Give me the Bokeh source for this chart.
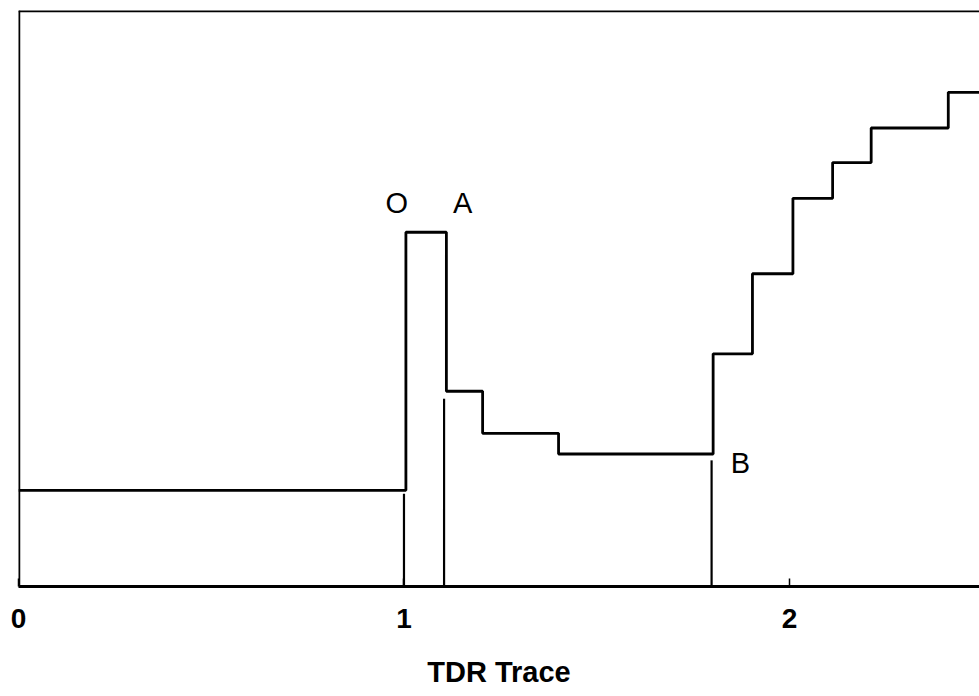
from bokeh.plotting import figure
from bokeh.models import Range1d, FixedTicker, Span, Label
from bokeh.embed import file_html
from bokeh.resources import INLINE

# ---- data ----
trace_x = [0.0, 1.005, 1.110, 1.204, 1.401, 1.802, 1.904, 2.009, 2.112, 2.212, 2.412, 2.6]
trace_y = [16.7, 61.5, 33.9, 26.6, 23.0, 40.4, 54.3, 67.4, 73.6, 79.6, 85.8, 85.8]

marker_x = [1.0, 1.104, 1.798]
marker_top = [16.1, 32.6, 21.9]

label_text = ["O", "A", "B"]
label_x = [0.981, 1.152, 1.873]
label_y = [66.5, 66.5, 21.5]

tick_values = [0, 1, 2]
x_title = "TDR Trace"

# ---- figure ----
p = figure(width=979, height=690, output_backend="svg", toolbar_location=None,
           x_range=Range1d(0, 2.493), y_range=Range1d(0, 100),
           min_border_left=18, min_border_right=0, min_border_top=10,
           min_border_bottom=104)
p.outline_line_color = None
p.grid.visible = False
p.yaxis.visible = False
p.background_fill_color = "white"
p.border_fill_color = "white"

xa = p.xaxis[0]
xa.ticker = FixedTicker(ticks=tick_values)
xa.axis_line_color = "black"
xa.axis_line_width = 3
xa.major_tick_in = 8
xa.major_tick_out = 0
xa.major_tick_line_color = "black"
xa.major_tick_line_width = 1.5
xa.minor_tick_line_color = None
xa.major_label_text_font = "Liberation Sans"
xa.major_label_text_font_style = "bold"
xa.major_label_text_font_size = "28px"
xa.major_label_text_color = "black"
xa.major_label_standoff = 22
xa.axis_label = x_title
xa.axis_label_text_font = "Liberation Sans"
xa.axis_label_text_font_style = "bold"
xa.axis_label_text_font_size = "29px"
xa.axis_label_text_color = "black"
xa.axis_label_standoff = 25

# frame borders (left and top)
p.add_layout(Span(location=0, dimension="height", line_color="black", line_width=3.5))
p.add_layout(Span(location=100, dimension="width", line_color="black", line_width=3.5))

# trace
p.step(trace_x, trace_y, mode="after", line_color="black", line_width=2.8)

# marker lines
p.segment(x0=marker_x, y0=[0] * len(marker_x), x1=marker_x, y1=marker_top,
          line_color="black", line_width=2.2)

# labels
for t, lx, ly in zip(label_text, label_x, label_y):
    p.add_layout(Label(x=lx, y=ly, text=t, text_align="center", text_baseline="middle",
                       text_font="Liberation Sans", text_font_size="29px",
                       text_color="black"))

open("out.html", "w").write(file_html(p, INLINE))
